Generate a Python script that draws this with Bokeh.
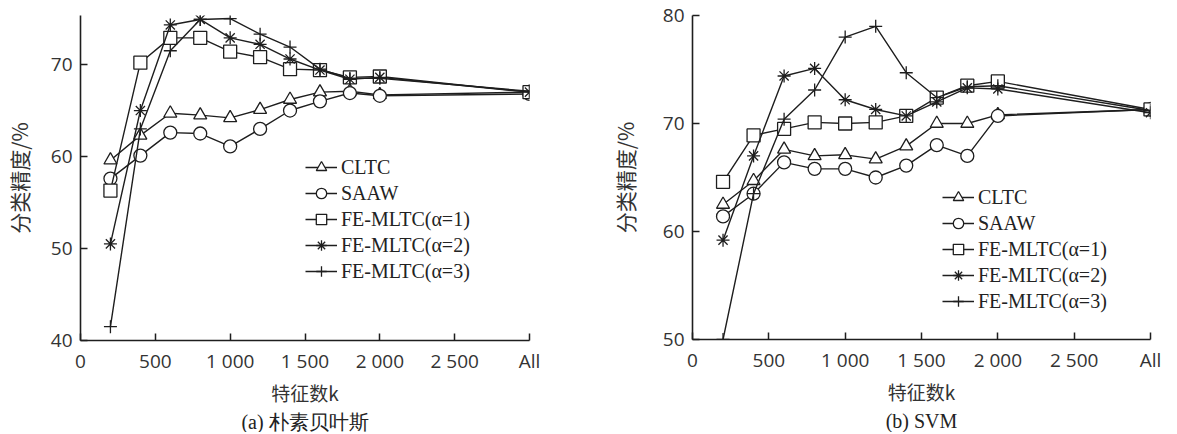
from bokeh.plotting import figure
from bokeh.models import Legend, LegendItem, FixedTicker, Range1d, Title
from bokeh.layouts import row
from bokeh.embed import file_html
from bokeh.resources import INLINE

# ---------------- data ----------------
feature_k = [200, 400, 600, 800, 1000, 1200, 1400, 1600, 1800, 2000, 3000]  # 3000 = "All"
x_ticks = [0, 500, 1000, 1500, 2000, 2500, 3000]
x_tick_labels = ["0", "500", "1 000", "1 500", "2 000", "2 500", "All"]

series_names = ["CLTC", "SAAW", "FE-MLTC(α=1)", "FE-MLTC(α=2)", "FE-MLTC(α=3)"]
series_markers = ["triangle", "circle", "square", "asterisk", "cross"]

# (a) Naive Bayes
nb_cltc = [59.6, 62.3, 64.7, 64.5, 64.2, 65.1, 66.2, 67.0, 67.1, 66.7, 67.0]
nb_saaw = [57.6, 60.1, 62.6, 62.5, 61.1, 63.0, 65.0, 66.0, 66.9, 66.6, 66.8]
nb_fe1 = [56.3, 70.2, 72.9, 72.9, 71.4, 70.8, 69.5, 69.4, 68.6, 68.7, 67.0]
nb_fe2 = [50.5, 65.0, 74.3, 74.9, 72.9, 72.2, 70.6, 69.4, 68.4, 68.6, 67.0]
nb_fe3 = [41.5, 63.0, 71.5, 74.9, 75.0, 73.3, 71.9, 69.5, 68.5, 68.5, 67.1]
nb_y_ticks = [40, 50, 60, 70]

# (b) SVM
svm_cltc = [62.5, 64.7, 67.6, 67.0, 67.1, 66.7, 67.9, 70.0, 70.0, 70.8, 71.3]
svm_saaw = [61.4, 63.5, 66.4, 65.8, 65.8, 65.0, 66.1, 68.0, 67.0, 70.7, 71.3]
svm_fe1 = [64.6, 68.9, 69.5, 70.1, 70.0, 70.1, 70.7, 72.4, 73.5, 73.9, 71.3]
svm_fe2 = [59.2, 67.0, 74.4, 75.1, 72.2, 71.3, 70.7, 72.0, 73.3, 73.2, 71.0]
svm_fe3 = [50.0, 63.5, 70.4, 73.1, 78.0, 79.0, 74.7, 72.4, 73.4, 73.5, 71.2]
svm_y_ticks = [50, 60, 70, 80]

y_label = "分类精度/%"
x_label = "特征数k"
caption_a = "(a) 朴素贝叶斯"
caption_b = "(b) SVM"

INK = "#1e1e1e"


def make_panel(series, y_range, y_ticks, frame_w, frame_h, borders,
               legend_loc, ylab_standoff, caption):
    bl, br, bt, bb = borders
    p = figure(frame_width=frame_w, frame_height=frame_h,
               x_range=Range1d(0, 3000), y_range=Range1d(*y_range),
               output_backend="svg", toolbar_location=None, title=None,
               min_border_left=bl, min_border_right=br,
               min_border_top=bt, min_border_bottom=bb)
    p.outline_line_color = None
    p.xgrid.visible = False
    p.ygrid.visible = False
    p.background_fill_color = "white"
    p.border_fill_color = "white"

    for ax in (p.xaxis[0], p.yaxis[0]):
        ax.axis_line_color = INK
        ax.axis_line_width = 1.6
        ax.major_tick_line_color = INK
        ax.major_tick_line_width = 1.5
        ax.major_tick_in = 7
        ax.major_tick_out = 0
        ax.minor_tick_line_color = None
        ax.major_label_text_font = "Open Sans"
        ax.major_label_text_font_size = "19px"
        ax.major_label_text_color = "#333333"
        ax.major_label_standoff = 8
        ax.axis_label_text_font_style = "normal"
        ax.axis_label_text_color = "#333333"

    p.xaxis[0].ticker = FixedTicker(ticks=x_ticks)
    p.xaxis[0].major_label_overrides = {t: s for t, s in zip(x_ticks, x_tick_labels)}
    p.xaxis[0].major_label_standoff = 7
    p.xaxis[0].axis_label = x_label
    p.xaxis[0].axis_label_text_font = "Noto Sans CJK SC"
    p.xaxis[0].axis_label_text_font_size = "19px"
    p.xaxis[0].axis_label_standoff = 2

    p.yaxis[0].ticker = FixedTicker(ticks=y_ticks)
    p.yaxis[0].axis_label = y_label
    p.yaxis[0].axis_label_text_font = "Noto Sans CJK SC"
    p.yaxis[0].axis_label_text_font_size = "21px"
    p.yaxis[0].axis_label_standoff = ylab_standoff

    items = []
    for name, marker, ys in zip(series_names, series_markers, series):
        r_line = p.line(feature_k, ys, line_color=INK, line_width=1.4)
        r_pt = p.scatter(feature_k, ys, marker=marker, size=13,
                         line_color=INK, line_width=1.3, fill_color="white")
        items.append(LegendItem(label=name, renderers=[r_line, r_pt]))

    legend = Legend(items=items, location=legend_loc,
                    label_text_font="Liberation Serif",
                    label_text_font_size="20px", label_text_color="#222222",
                    glyph_width=32, glyph_height=26, label_height=26,
                    label_standoff=4, spacing=0, padding=0, margin=0,
                    border_line_color=None, background_fill_alpha=0)
    p.add_layout(legend, "center")

    cap = Title(text=caption, align="center", text_font="Liberation Serif",
                text_font_size="20px", text_font_style="normal",
                text_color="#222222", standoff=0)
    p.add_layout(cap, "below")
    return p


p1 = make_panel([nb_cltc, nb_saaw, nb_fe1, nb_fe2, nb_fe3], (40, 75.33), nb_y_ticks,
                449, 325, (77, 74, 15, 92),
                legend_loc=(225, 56), ylab_standoff=14, caption=caption_a)
p2 = make_panel([svm_cltc, svm_saaw, svm_fe1, svm_fe2, svm_fe3], (50, 80), svm_y_ticks,
                458, 324, (89, 28, 15, 93),
                legend_loc=(250, 25), ylab_standoff=20, caption=caption_b)

layout = row(p1, p2)
open("out.html", "w").write(file_html(layout, INLINE))
